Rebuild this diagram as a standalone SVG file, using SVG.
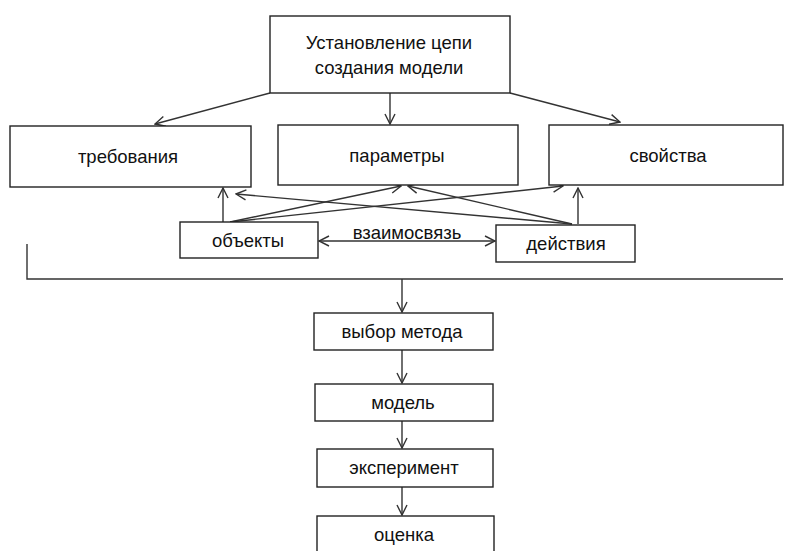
<svg xmlns="http://www.w3.org/2000/svg" width="785" height="551" viewBox="0 0 785 551">
<style>
.box{fill:#fff;stroke:#222;stroke-width:1.4}
.lbl{font-family:"Liberation Sans","Open Sans",sans-serif;font-size:18.5px;fill:#111;text-anchor:middle}
.c{fill:none;stroke:#333;stroke-width:1.4}
</style>
<defs>
<marker id="ah" viewBox="0 0 12 12" refX="11" refY="6" markerWidth="12" markerHeight="12" markerUnits="userSpaceOnUse" orient="auto-start-reverse">
<path d="M1,1 L11,6 L1,11" fill="none" stroke="#333" stroke-width="1.4"/>
</marker>
</defs>
<rect width="785" height="551" fill="#fff"/>
<g id="connectors">
<line class="c" x1="270" y1="93" x2="155" y2="124" marker-end="url(#ah)"/>
<line class="c" x1="390" y1="93" x2="390" y2="124" marker-end="url(#ah)"/>
<line class="c" x1="510" y1="93" x2="620" y2="122" marker-end="url(#ah)"/>
<line class="c" x1="223" y1="222" x2="223" y2="188" marker-end="url(#ah)"/>
<line class="c" x1="230" y1="222" x2="401" y2="186" marker-end="url(#ah)"/>
<line class="c" x1="230" y1="222" x2="563" y2="186" marker-end="url(#ah)"/>
<line class="c" x1="578" y1="224" x2="578" y2="188" marker-end="url(#ah)"/>
<line class="c" x1="572" y1="224" x2="408" y2="186" marker-end="url(#ah)"/>
<line class="c" x1="572" y1="224" x2="236" y2="194" marker-end="url(#ah)"/>
<line class="c" x1="319" y1="241" x2="495" y2="241" marker-start="url(#ah)" marker-end="url(#ah)"/>
<polyline class="c" points="27,244 27,279 783,279"/>
<line class="c" x1="402" y1="279" x2="402" y2="312" marker-end="url(#ah)"/>
<line class="c" x1="402" y1="350" x2="402" y2="383" marker-end="url(#ah)"/>
<line class="c" x1="402" y1="421" x2="402" y2="448" marker-end="url(#ah)"/>
<line class="c" x1="402" y1="487" x2="402" y2="515" marker-end="url(#ah)"/>
<text class="lbl" x="407" y="239">взаимосвязь</text>
</g>
<g id="n-top"><rect class="box" x="270" y="16" width="240" height="77"/><text class="lbl" x="389" y="49">Установление цепи</text><text class="lbl" x="389" y="74">создания модели</text></g>
<g id="n-treb"><rect class="box" x="10" y="126" width="241" height="61"/><text class="lbl" x="128" y="163">требования</text></g>
<g id="n-param"><rect class="box" x="278" y="125" width="240" height="60"/><text class="lbl" x="397" y="162">параметры</text></g>
<g id="n-svoi"><rect class="box" x="549" y="125" width="234" height="60"/><text class="lbl" x="668" y="162">свойства</text></g>
<g id="n-obj"><rect class="box" x="180" y="222" width="138" height="36"/><text class="lbl" x="248" y="247">объекты</text></g>
<g id="n-dei"><rect class="box" x="496" y="225" width="139" height="37"/><text class="lbl" x="566" y="250">действия</text></g>
<g id="n-vybor"><rect class="box" x="314" y="313" width="179" height="37"/><text class="lbl" x="402" y="338">выбор метода</text></g>
<g id="n-model"><rect class="box" x="315" y="384" width="178" height="37"/><text class="lbl" x="403" y="409">модель</text></g>
<g id="n-exp"><rect class="box" x="317" y="449" width="176" height="38"/><text class="lbl" x="404" y="474">эксперимент</text></g>
<g id="n-ocen"><rect class="box" x="317" y="516" width="177" height="40"/><text class="lbl" x="404" y="541">оценка</text></g>
</svg>
